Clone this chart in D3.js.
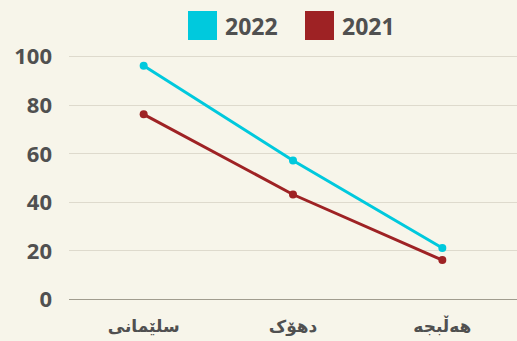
<!DOCTYPE html>
<html>
<head>
<meta charset="utf-8">
<script src="https://cdn.jsdelivr.net/npm/d3@7"></script>
<style>
  html, body { margin: 0; padding: 0; background: #f7f5ea; }
  svg { display: block; }
</style>
</head>
<body>
<svg id="chart" width="517" height="341"></svg>
<script>
// Cities (Kurdish, Arabic script) and values per year
const cities = ["سلێمانی", "دهۆک", "هەڵبجە"];
const values2022 = [96, 57, 21];
const values2021 = [76, 43, 16];
const yTicks = [0, 20, 40, 60, 80, 100];

const series = [
  { name: "2022", color: "#00c9dd", values: values2022 },
  { name: "2021", color: "#9e2224", values: values2021 }
];

const W = 517, H = 341;
const margin = { top: 56, right: 0, bottom: 42, left: 69 };
const svg = d3.select("#chart");
const font = "'Open Sans', 'Noto Sans', 'DejaVu Sans', sans-serif";
const textColor = "#505050";

svg.append("rect").attr("width", W).attr("height", H).attr("fill", "#f7f5ea");

const x = d3.scaleBand().domain(cities).range([margin.left, W - margin.right]);
const y = d3.scaleLinear().domain([0, 100]).range([H - margin.bottom, margin.top]);

// Value axis labels
const yAxis = d3.axisLeft(y).tickValues(yTicks).tickSize(0).tickPadding(17);
const gy = svg.append("g").attr("transform", `translate(${margin.left},0)`).call(yAxis);
gy.select(".domain").remove();
gy.selectAll("text")
  .attr("fill", textColor)
  .style("font-family", font)
  .style("font-size", "22px")
  .style("font-weight", "700")
  .attr("dy", "0.36em");

// Gridlines
svg.append("g").selectAll("line")
  .data(yTicks)
  .join("line")
  .attr("x1", margin.left)
  .attr("x2", W - margin.right)
  .attr("y1", d => Math.round(y(d)) + 0.5)
  .attr("y2", d => Math.round(y(d)) + 0.5)
  .attr("stroke", d => d === 0 ? "#a09c8e" : "#dedacd")
  .attr("stroke-width", 1.2);

// Category axis
const xAxis = d3.axisBottom(x).tickSize(0).tickPadding(21);
const gx = svg.append("g").attr("transform", `translate(0,${H - margin.bottom})`).call(xAxis);
gx.select(".domain").remove();
gx.selectAll("text")
  .attr("fill", textColor)
  .style("font-family", "'Noto Sans', 'DejaVu Sans', sans-serif")
  .style("font-size", "17px")
  .style("font-weight", "700");

// Lines and markers
const line = d3.line()
  .x((d, i) => x(cities[i]) + x.bandwidth() / 2)
  .y(d => y(d));

series.forEach(s => {
  svg.append("path")
    .datum(s.values)
    .attr("d", line)
    .attr("fill", "none")
    .attr("stroke", s.color)
    .attr("stroke-width", 3);
  svg.append("g").selectAll("circle")
    .data(s.values)
    .join("circle")
    .attr("cx", (d, i) => x(cities[i]) + x.bandwidth() / 2)
    .attr("cy", d => y(d))
    .attr("r", 4)
    .attr("fill", s.color);
});

// Legend
const legendX = [188, 305];
const lg = svg.append("g");
series.forEach((s, i) => {
  lg.append("rect")
    .attr("x", legendX[i]).attr("y", 11)
    .attr("width", 29).attr("height", 29)
    .attr("fill", s.color);
  lg.append("text")
    .attr("x", legendX[i] + 37).attr("y", 35)
    .attr("fill", textColor)
    .style("font-family", font)
    .style("font-size", "23px")
    .style("font-weight", "700")
    .text(s.name);
});
</script>
</body>
</html>
